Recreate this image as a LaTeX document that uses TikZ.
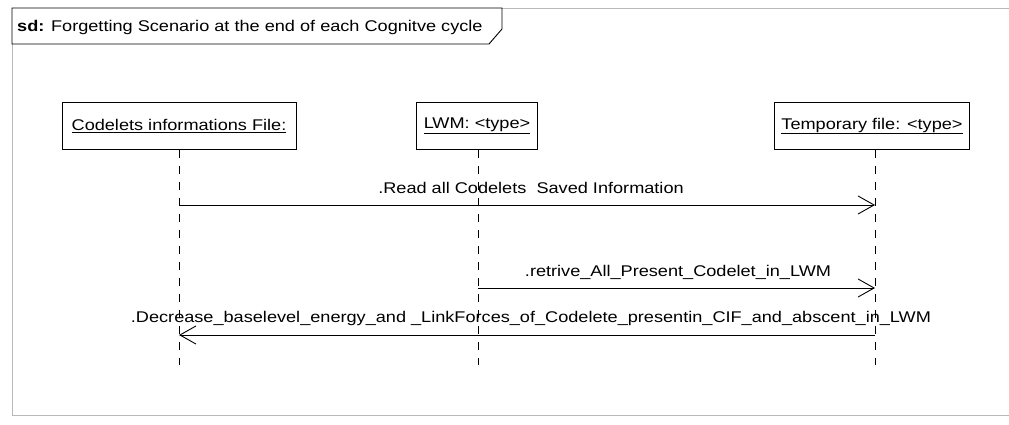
\documentclass[tikz,border=0pt]{standalone}
\usepackage{fontspec}
\setmainfont[FakeStretch=1.17]{Liberation Sans}
\usetikzlibrary{arrows.meta,positioning}

\begin{document}
\begin{tikzpicture}[x=1pt,y=-1pt,font=\fontsize{15.5}{18}\selectfont,
    obj/.style={draw,line width=0.9pt,minimum height=47pt,inner sep=0pt},
    life/.style={line width=0.9pt,dash pattern=on 8pt off 8pt},
    msg/.style={line width=0.9pt,-{Straight Barb[length=16pt,width=18pt,line width=0.9pt]}},
    lbl/.style={inner sep=0pt}]
    \useasboundingbox (0,0) rectangle (1009,425);
    % frame
    \draw[line width=0.9pt,gray!55] (1009,8) -- (502,8);
    \draw[line width=0.9pt,gray!55] (12,44) -- (12,415) -- (1009,415);
    \draw[line width=0.9pt] (12,8) -- (502,8) -- (502,29) -- (489,44) -- (12,44) -- cycle;
    \node[lbl,anchor=west] (title) at (17,27) {\textbf{sd:} Forgetting Scenario at the end of each Cognitve cycle};

    % lifelines
    \node[obj,minimum width=234pt] (cif) at (179,126) {\underline{Codelets informations File:}};
    \node[obj,minimum width=121pt] (lwm) at (477,126) {\underline{LWM: <type>}};
    \node[obj,minimum width=195pt] (tmp) at (872,126) {\underline{Temporary file: <type>}};
    \coordinate (cifEnd) at (179,365);
    \coordinate (lwmEnd) at (478,365);
    \coordinate (tmpEnd) at (875,365);
    \draw[life] (cif.south -| cifEnd) -- (cifEnd);
    \draw[life] (lwm.south -| lwmEnd) -- (lwmEnd);
    \draw[life] (tmp.south -| tmpEnd) -- (tmpEnd);

    % messages
    \coordinate (r1) at (179,205);  \coordinate (t1) at (875,205);
    \coordinate (l2) at (478,288);  \coordinate (t2) at (875,288);
    \coordinate (t3) at (875,335);  \coordinate (r3) at (179,335);
    \draw[msg] (r1) -- (t1);
    \node[lbl] (m1) at (531,188) {.Read all Codelets\ \ Saved Information};
    \draw[msg] (l2) -- (t2);
    \node[lbl] (m2) at (678,272) {.retrive\_All\_Present\_Codelet\_in\_LWM};
    \draw[msg] (t3) -- (r3);
    \node[lbl] (m3) at (531,318) {.Decrease\_baselevel\_energy\_and \_LinkForces\_of\_Codelete\_presentin\_CIF\_and\_abscent\_in\_LWM};
\end{tikzpicture}
\end{document}
